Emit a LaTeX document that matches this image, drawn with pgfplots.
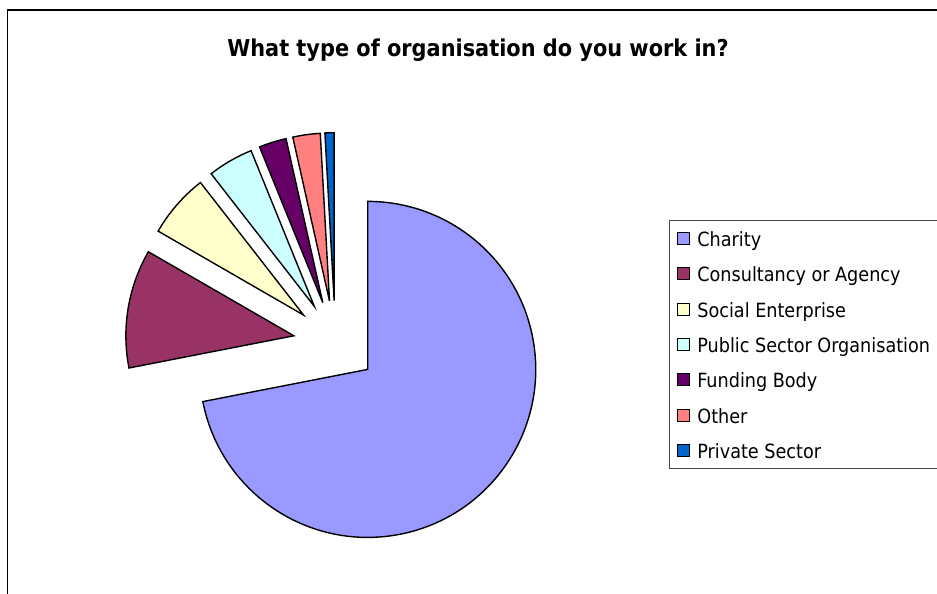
\documentclass[border=0pt]{standalone}
\usepackage{pgfplots}
\pgfplotsset{compat=1.18}
\usepackage{fontspec}
\setmainfont{DejaVu Sans Condensed}

\definecolor{cCharity}{HTML}{9999FF}
\definecolor{cConsult}{HTML}{993366}
\definecolor{cSocial}{HTML}{FFFFCC}
\definecolor{cPublic}{HTML}{CCFFFF}
\definecolor{cFunding}{HTML}{660066}
\definecolor{cOther}{HTML}{FF8080}
\definecolor{cPrivate}{HTML}{0066CC}

% slice: colour, low angle, high angle, vertex x, vertex y, label
\newcommand{\slice}[6]{%
  \addplot[draw=black, line width=1.4bp, line join=miter, fill=#1]
    coordinates {(#4,#5)} -- ++(#2:168bp)
    arc[start angle=#2, end angle=#3, radius=168bp] -- cycle;
  \addlegendentry{#6}
}

\begin{document}
\begin{tikzpicture}
% counts of responses
\def\nA{82}\def\nB{13}\def\nC{7}\def\nD{5}\def\nE{3}\def\nF{3}\def\nG{1}
\pgfmathsetmacro{\tot}{\nA+\nB+\nC+\nD+\nE+\nF+\nG}
\pgfmathsetmacro{\u}{360/\tot}
\pgfmathsetmacro{\eA}{90-\u*\nA}
\pgfmathsetmacro{\eB}{\eA+360-\u*\nB}
\pgfmathsetmacro{\eC}{\eB-\u*\nC}
\pgfmathsetmacro{\eD}{\eC-\u*\nD}
\pgfmathsetmacro{\eE}{\eD-\u*\nE}
\pgfmathsetmacro{\eF}{\eE-\u*\nF}
\pgfmathsetmacro{\eG}{\eF-\u*\nG}
% explosion of each slice from the centre
\def\cx{335.3}\def\cy{251.3}\def\ex{42}
\pgfmathsetmacro{\xA}{\cx+\ex*cos((90+\eA)/2)}\pgfmathsetmacro{\yA}{\cy+\ex*sin((90+\eA)/2)}
\pgfmathsetmacro{\xB}{\cx+\ex*cos((\eA+360+\eB)/2)}\pgfmathsetmacro{\yB}{\cy+\ex*sin((\eA+360+\eB)/2)}
\pgfmathsetmacro{\xC}{\cx+\ex*cos((\eB+\eC)/2)}\pgfmathsetmacro{\yC}{\cy+\ex*sin((\eB+\eC)/2)}
\pgfmathsetmacro{\xD}{\cx+\ex*cos((\eC+\eD)/2)}\pgfmathsetmacro{\yD}{\cy+\ex*sin((\eC+\eD)/2)}
\pgfmathsetmacro{\xE}{\cx+\ex*cos((\eD+\eE)/2)}\pgfmathsetmacro{\yE}{\cy+\ex*sin((\eD+\eE)/2)}
\pgfmathsetmacro{\xF}{\cx+\ex*cos((\eE+\eF)/2)}\pgfmathsetmacro{\yF}{\cy+\ex*sin((\eE+\eF)/2)}
\pgfmathsetmacro{\xG}{\cx+\ex*cos((\eF+\eG)/2)}\pgfmathsetmacro{\yG}{\cy+\ex*sin((\eF+\eG)/2)}
\pgfmathsetmacro{\aB}{\eA+360}
\begin{axis}[
  x=1bp, y=1bp,
  xmin=0, xmax=937, ymin=0, ymax=594,
  hide axis, clip=false,
  title={What type of organisation do you work in?},
  title style={at={(478/937,532/594)}, anchor=base, inner sep=0pt,
    font=\bfseries\fontsize{23.2bp}{26bp}\selectfont},
  legend cell align=left,
  legend image code/.code={\draw[#1, draw=black, line width=0.9bp] (0bp,-6bp) rectangle (12bp,6bp);},
  legend style={at={(669/937,374/594)}, anchor=north west, draw=black!70, line width=1bp,
    font=\fontsize{19.6bp}{22bp}\selectfont,
    inner xsep=7bp, inner ysep=9bp, row sep=17.3bp,
    nodes={inner sep=1bp, text height=16bp, text depth=0bp},
    /tikz/every odd column/.append style={column sep=7bp},
    /tikz/every even column/.append style={column sep=14bp}},
]
\addplot[black, line width=1.2bp, forget plot] coordinates {(7.5,-10) (7.5,584) (950,584)};
\slice{cCharity}{\eA}{90}{\xA}{\yA}{Charity}
\slice{cConsult}{\eB}{\aB}{\xB}{\yB}{Consultancy or Agency}
\slice{cSocial}{\eC}{\eB}{\xC}{\yC}{Social Enterprise}
\slice{cPublic}{\eD}{\eC}{\xD}{\yD}{Public Sector Organisation}
\slice{cFunding}{\eE}{\eD}{\xE}{\yE}{Funding Body}
\slice{cOther}{\eF}{\eE}{\xF}{\yF}{Other}
\slice{cPrivate}{\eG}{\eF}{\xG}{\yG}{Private Sector}
\end{axis}
\pgfresetboundingbox
\path[use as bounding box] (current axis.south west) rectangle (current axis.north east);
\end{tikzpicture}
\end{document}
